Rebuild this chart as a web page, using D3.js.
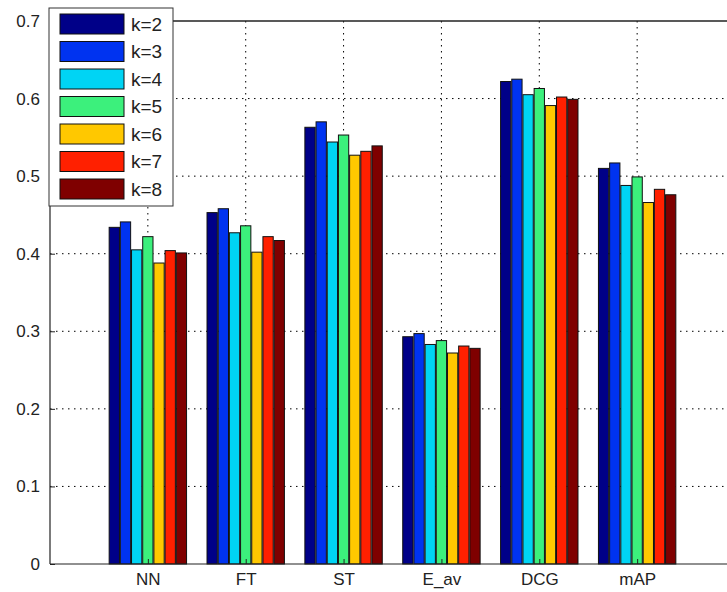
<!DOCTYPE html>
<html lang="en">
<head>
    <meta charset="UTF-8">
    <title>grouped bars k=2..8</title>
    <script src="https://cdn.jsdelivr.net/npm/d3@7/dist/d3.min.js"></script>
    <style>
        body { margin: 0; background: #ffffff; }
        text { font-family: "Liberation Sans", Arial, sans-serif; }
    </style>
</head>
<body>
<svg width="727" height="592" id="chart"></svg>

<script>
    // categories on the x axis
    var categories = ["NN", "FT", "ST", "E_av", "DCG", "mAP"];
    // one series per k value
    var seriesNames = ["k=2", "k=3", "k=4", "k=5", "k=6", "k=7", "k=8"];
    var seriesColors = ["#000088", "#0033f0", "#00d4f4", "#3cf07c", "#ffc800", "#ff2000", "#7f0000"];

    // values[k][category]
    var k2 = [0.434, 0.453, 0.563, 0.293, 0.622, 0.510];
    var k3 = [0.441, 0.458, 0.570, 0.297, 0.625, 0.517];
    var k4 = [0.405, 0.427, 0.544, 0.283, 0.605, 0.488];
    var k5 = [0.422, 0.436, 0.553, 0.288, 0.613, 0.499];
    var k6 = [0.388, 0.402, 0.527, 0.272, 0.591, 0.466];
    var k7 = [0.404, 0.422, 0.532, 0.281, 0.602, 0.483];
    var k8 = [0.401, 0.417, 0.539, 0.278, 0.599, 0.476];
    var values = [k2, k3, k4, k5, k6, k7, k8];

    var yTicks = [0, 0.1, 0.2, 0.3, 0.4, 0.5, 0.6, 0.7];

    /* ----------------- 坐标 ----------------- */
    var svg = d3.select("#chart");

    // note: "top" is taken by window.top, so use other names
    var plotLeft = 50, plotRight = 735, plotTop = 21, plotBottom = 564;

    // x: categories sit at 1..6, axis runs 0..7 (right edge is cut off)
    var x = d3.scaleLinear().domain([0, 7]).range([plotLeft, plotRight]);
    var y = d3.scaleLinear().domain([0, 0.7]).range([plotBottom, plotTop]);

    var nSeries = seriesNames.length;
    var groupWidth = 0.8;
    var barWidth = 0.92 * groupWidth / nSeries;

    // dotted grid, behind the bars
    var grid = svg.append("g");
    grid.selectAll("line.h")
        .data(yTicks.slice(1, yTicks.length - 1))
        .enter()
        .append("line")
        .attr("x1", plotLeft)
        .attr("x2", 727)
        .attr("y1", function (d) { return y(d); })
        .attr("y2", function (d) { return y(d); })
        .attr("stroke", "#000")
        .attr("stroke-width", 1)
        .attr("stroke-dasharray", "1.5,4.5");
    grid.selectAll("line.v")
        .data(categories)
        .enter()
        .append("line")
        .attr("x1", function (d, i) { return x(i + 1); })
        .attr("x2", function (d, i) { return x(i + 1); })
        .attr("y1", plotTop)
        .attr("y2", plotBottom)
        .attr("stroke", "#000")
        .attr("stroke-width", 1)
        .attr("stroke-dasharray", "1.5,4.5");

    // bars
    var groups = svg.selectAll("g.series")
        .data(values)
        .enter()
        .append("g")
        .attr("class", "series")
        .attr("fill", function (d, s) { return seriesColors[s]; });

    groups.selectAll("rect")
        .data(function (d, s) {
            return d.map(function (v, i) { return {v: v, i: i, s: s}; });
        })
        .enter()
        .append("rect")
        .attr("x", function (d) {
            var cx = d.i + 1 + (d.s - (nSeries - 1) / 2) * groupWidth / nSeries;
            return x(cx - barWidth / 2);
        })
        .attr("width", x(barWidth) - x(0))
        .attr("y", function (d) { return y(d.v); })
        .attr("height", function (d) { return y(0) - y(d.v); })
        .attr("stroke", "#111")
        .attr("stroke-width", 1);

    // axes lines
    svg.append("line")
        .attr("x1", plotLeft).attr("x2", 727)
        .attr("y1", plotBottom).attr("y2", plotBottom)
        .attr("stroke", "#222").attr("stroke-width", 1.2);
    svg.append("line")
        .attr("x1", plotLeft).attr("x2", 727)
        .attr("y1", plotTop).attr("y2", plotTop)
        .attr("stroke", "#222").attr("stroke-width", 1.6);
    svg.append("line")
        .attr("x1", plotLeft).attr("x2", plotLeft)
        .attr("y1", plotTop).attr("y2", plotBottom)
        .attr("stroke", "#222").attr("stroke-width", 1.2);

    // y ticks (inward) and labels
    var yAxis = d3.axisLeft(y)
        .tickValues(yTicks)
        .tickSizeInner(-5)
        .tickSizeOuter(0)
        .tickPadding(10)
        .tickFormat(function (d) { return d === 0 ? "0" : d3.format(".1f")(d); });
    var gy = svg.append("g")
        .attr("transform", "translate(" + plotLeft + ",0)")
        .call(yAxis);
    gy.select(".domain").remove();
    gy.selectAll("text")
        .attr("font-size", 17)
        .attr("font-family", "Liberation Sans, Arial, sans-serif")
        .attr("fill", "#222");
    gy.selectAll(".tick line").attr("stroke", "#222");

    // x labels
    var xAxis = d3.axisBottom(x)
        .tickValues(d3.range(1, categories.length + 1))
        .tickSizeInner(-5)
        .tickSizeOuter(0)
        .tickPadding(9)
        .tickFormat(function (d) { return categories[d - 1]; });
    var gx = svg.append("g")
        .attr("transform", "translate(0," + plotBottom + ")")
        .call(xAxis);
    gx.select(".domain").remove();
    gx.selectAll("text")
        .attr("font-size", 17)
        .attr("font-family", "Liberation Sans, Arial, sans-serif")
        .attr("fill", "#222");
    gx.selectAll(".tick line").attr("stroke", "#222");

    /* ----------------- 图例 ----------------- */
    var legend = svg.append("g").attr("transform", "translate(49,8)");
    legend.append("rect")
        .attr("x", 0).attr("y", 0)
        .attr("width", 124).attr("height", 198)
        .attr("fill", "#fff")
        .attr("stroke", "#333")
        .attr("stroke-width", 1);

    var rows = legend.selectAll("g.row")
        .data(seriesNames)
        .enter()
        .append("g")
        .attr("class", "row")
        .attr("transform", function (d, i) { return "translate(0," + (16 + i * 27.5) + ")"; });
    rows.append("rect")
        .attr("x", 11).attr("y", -10)
        .attr("width", 64).attr("height", 20)
        .attr("fill", function (d, i) { return seriesColors[i]; })
        .attr("stroke", "#111")
        .attr("stroke-width", 1);
    rows.append("text")
        .attr("x", 82)
        .attr("y", 0)
        .attr("dy", "0.36em")
        .attr("font-size", 19)
        .attr("fill", "#222")
        .text(function (d) { return d; });
</script>
</body>
</html>
